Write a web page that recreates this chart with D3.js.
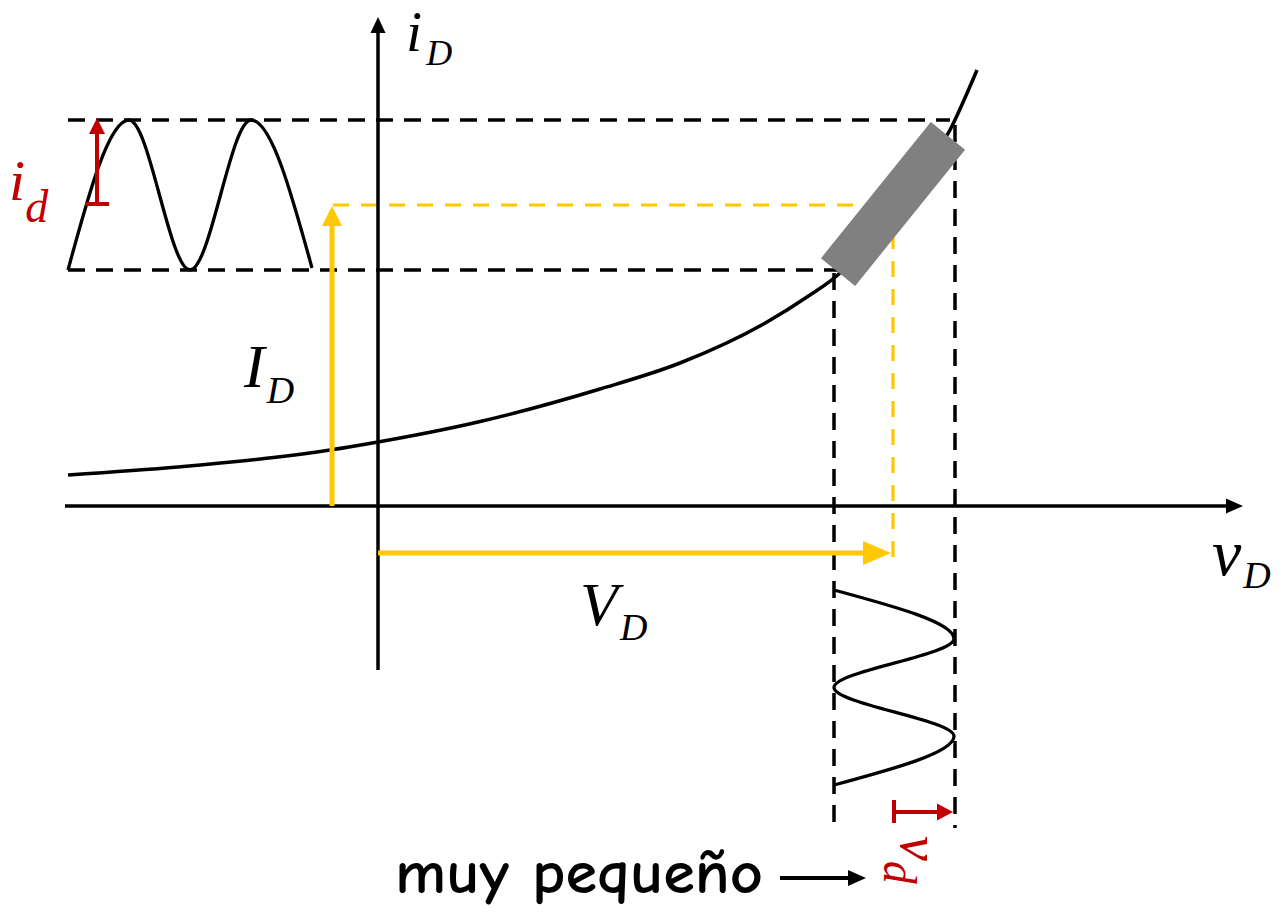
<!DOCTYPE html>
<html>
<head>
<meta charset="utf-8">
<script src="https://cdn.jsdelivr.net/npm/d3@7"></script>
<style>
  html, body { margin: 0; padding: 0; background: #fff; }
  svg { display: block; }
</style>
</head>
<body>
<script>
// Diode i-v characteristic (arbitrary units) with the bias point and small-signal swing
const vCurve = [-3.10, -2.00, -1.00, -0.48, 0.00, 1.00, 2.22, 3.02, 3.89, 4.29, 4.62, 5.15, 5.72, 5.99];
const iCurve = [0.31, 0.39, 0.49, 0.56, 0.64, 0.84, 1.17, 1.43, 1.84, 2.09, 2.33, 3.01, 3.76, 4.36];

// Quiescent point (V_D, I_D) and signal swing limits
const Q = { v: 5.15, i: 3.01 };
const iSwing = [2.36, 3.86];   // i_D min / max
const vSwing = [4.56, 5.77];   // v_D min / max

// Two-period signal shapes: time (periods) and extremes
const tWave = [0, 0.5, 1, 1.5, 2];
const iWave = [2.36, 3.86, 2.36, 3.86, 2.38];
const vWave = [4.56, 5.76, 4.56, 5.76, 4.56];

// Axis extents
const vAxis = [-3.13, 8.65];
const iAxis = [-1.64, 4.89];

// Labels
const labels = {
  iD: ["i", "D"], vD: ["v", "D"], ID: ["I", "D"], VD: ["V", "D"],
  id: ["i", "d"], vd: ["v", "d"], note: "muy pequeño"
};

const W = 1286, H = 914;
const svg = d3.select("body").append("svg").attr("width", W).attr("height", H);

const x = d3.scaleLinear().domain([0, 1]).range([378, 478]);
const y = d3.scaleLinear().domain([0, 1]).range([506, 406]);
// time scales for the two signal waveforms
const tLeft = d3.scaleLinear().domain([0, 2]).range([68, 312]);
const tDown = d3.scaleLinear().domain([0, 2]).range([590, 785]);

const YELLOW = "#FFC800", RED = "#C00000", GREY = "#808080";

function arrow(g, x1, y1, x2, y2, color, w, hl, hw) {
  const a = Math.atan2(y2 - y1, x2 - x1);
  const bx = x2 - hl * Math.cos(a), by = y2 - hl * Math.sin(a);
  g.append("line").attr("x1", x1).attr("y1", y1).attr("x2", bx + Math.cos(a)).attr("y2", by + Math.sin(a))
    .attr("stroke", color).attr("stroke-width", w);
  const px = -Math.sin(a) * hw / 2, py = Math.cos(a) * hw / 2;
  g.append("path")
    .attr("d", `M${x2},${y2}L${bx + px},${by + py}L${bx - px},${by - py}Z`)
    .attr("fill", color);
}

const g = svg.append("g");

// Dashed guide lines (black)
const dash = "17,11";
function dline(x1, y1, x2, y2, color, da) {
  g.append("line").attr("x1", x1).attr("y1", y1).attr("x2", x2).attr("y2", y2)
    .attr("stroke", color).attr("stroke-width", 3.5).attr("stroke-dasharray", da);
}
dline(x(vCurve[0]), y(iSwing[1]), x(5.72), y(iSwing[1]), "#000", dash);
dline(x(vCurve[0]), y(iSwing[0]), x(4.60), y(iSwing[0]), "#000", dash);
dline(x(vSwing[0]), y(2.33), x(vSwing[0]), y(-3.24), "#000", dash);
dline(x(vSwing[1]), y(3.81), x(vSwing[1]), y(-3.22), "#000", dash);

// Yellow dashed projection of the bias point
g.append("path")
  .attr("d", d3.line()([[x(-0.45), y(Q.i)], [x(Q.v), y(Q.i)], [x(Q.v), y(-0.54)]]))
  .attr("fill", "none").attr("stroke", YELLOW).attr("stroke-width", 3.2)
  .attr("stroke-dasharray", "16,12");

// Axes
arrow(g, x(vAxis[0]), y(0), x(vAxis[1]), y(0), "#000", 3.5, 17, 15);
arrow(g, x(0), y(iAxis[0]), x(0), y(iAxis[1]), "#000", 3.5, 16, 15);

// Characteristic curve
g.append("path")
  .datum(vCurve.map((v, k) => [v, iCurve[k]]))
  .attr("d", d3.line().x(d => x(d[0])).y(d => y(d[1])).curve(d3.curveMonotoneX))
  .attr("fill", "none").attr("stroke", "#000").attr("stroke-width", 3.5);

// Tangent band at the bias point
const ang = -51.1;
g.append("rect")
  .attr("x", -87.5).attr("y", -22).attr("width", 175).attr("height", 44)
  .attr("fill", GREY)
  .attr("transform", `translate(${x(Q.v)},${y(Q.i) - 1}) rotate(${ang})`);

// Bias arrows I_D and V_D
arrow(g, x(-0.46), y(0), x(-0.46), y(Q.i) + 1, YELLOW, 5, 20, 20);
arrow(g, x(0), y(-0.47), x(Q.v) - 2, y(-0.47), YELLOW, 5, 28, 24);

// Current signal i_d(t)
g.append("path")
  .datum(tWave.map((t, k) => [t, iWave[k]]))
  .attr("d", d3.line().x(d => tLeft(d[0])).y(d => y(d[1])).curve(d3.curveMonotoneX))
  .attr("fill", "none").attr("stroke", "#000").attr("stroke-width", 3.3);

// Voltage signal v_d(t)
g.append("path")
  .datum(tWave.map((t, k) => [vWave[k], t]))
  .attr("d", d3.line().x(d => x(d[0])).y(d => tDown(d[1])).curve(d3.curveMonotoneY))
  .attr("fill", "none").attr("stroke", "#000").attr("stroke-width", 3.3);

// Amplitude markers: from the bias level to the peak
g.append("line").attr("x1", 85).attr("x2", 109).attr("y1", y(Q.i) - 1).attr("y2", y(Q.i) - 1)
  .attr("stroke", RED).attr("stroke-width", 4);
arrow(g, 97, y(Q.i) - 1, 97, y(iSwing[1]) - 2, RED, 4, 16, 16);

g.append("line").attr("x1", x(Q.v) + 1).attr("x2", x(Q.v) + 1).attr("y1", 800).attr("y2", 823)
  .attr("stroke", RED).attr("stroke-width", 4);
arrow(g, x(Q.v) + 1, 812, x(vSwing[1]) - 2, 812, RED, 4, 16, 17);

// Labels
const serif = "'Liberation Serif','Times New Roman',serif";
function sub(xp, yp, pair, big, small, dx, dy, color) {
  const t = g.append("text").attr("x", xp).attr("y", yp)
    .attr("font-family", serif).attr("font-style", "italic").attr("fill", color || "#000");
  t.append("tspan").attr("font-size", big).text(pair[0]);
  t.append("tspan").attr("font-size", small).attr("dx", dx).attr("dy", dy).text(pair[1]);
  return t;
}
sub(406, 51, labels.iD, 58, 36, 4, 14);
sub(1212, 575, labels.vD, 66, 38, 2, 13);
sub(244, 387, labels.ID, 62, 38, 2, 16);
sub(580, 625, labels.VD, 62, 38, 2, 15);
sub(9, 200, labels.id, 58, 46, 0, 22, RED);

const vd = g.append("g").attr("transform", "translate(901,836) rotate(90)");
const vdt = vd.append("text").attr("x", 0).attr("y", 0)
  .attr("font-family", serif).attr("font-style", "italic").attr("fill", RED);
vdt.append("tspan").attr("font-size", 56).text(labels.vd[0]);
vdt.append("tspan").attr("font-size", 46).attr("dx", 0).attr("dy", 17).text(labels.vd[1]);

// Note
g.append("text").attr("x", 395).attr("y", 893)
  .attr("font-family", "'Comic Sans MS','Comic Neue',Lato,'Open Sans',sans-serif")
  .attr("font-size", 60).attr("font-weight", 600).attr("textLength", 368).attr("lengthAdjust", "spacingAndGlyphs")
  .attr("fill", "#000").text(labels.note);
arrow(g, 780, 878, 866, 878, "#000", 4, 18, 16);
</script>
</body>
</html>
